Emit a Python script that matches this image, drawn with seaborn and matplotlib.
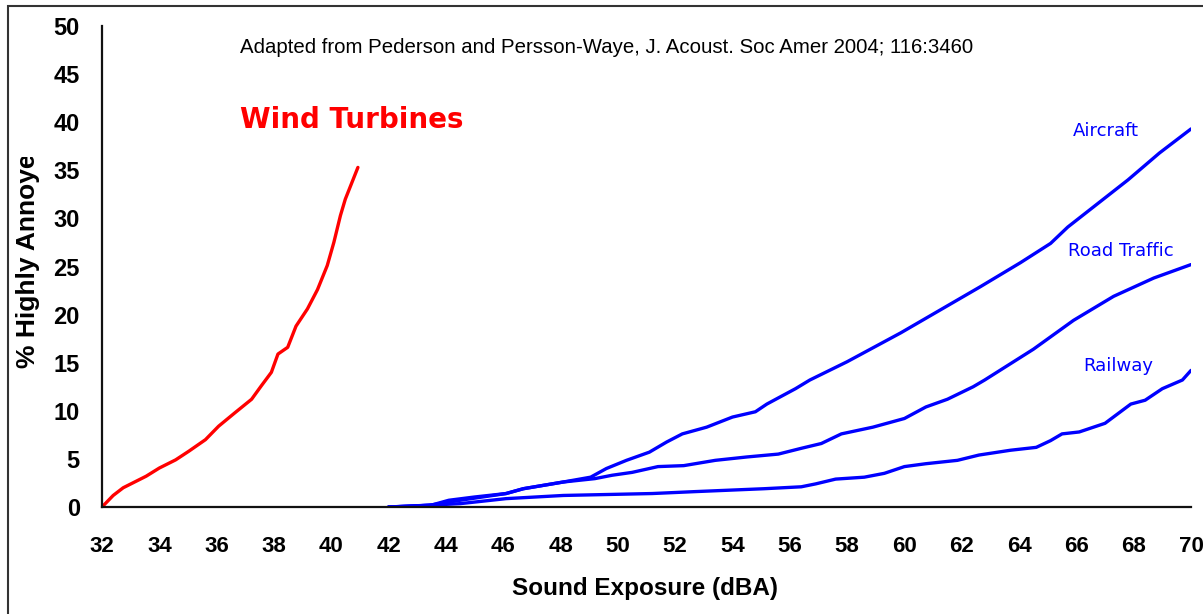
import matplotlib
matplotlib.use("Agg")
import matplotlib.pyplot as plt
import matplotlib.patches as patches
from matplotlib.transforms import Bbox, TransformedBbox
import seaborn as sns
import pandas as pd

# values
wind_x = [32.0, 32.39, 32.74, 33.54, 34.0, 34.57, 35.03, 35.61, 36.07, 36.64, 37.22, 37.56,
          37.91, 38.14, 38.48, 38.77, 39.17, 39.52, 39.86, 40.09, 40.32, 40.49, 40.93]
wind_y = [0.0, 1.2, 2.0, 3.2, 4.05, 4.9, 5.8, 7.0, 8.4, 9.8, 11.2, 12.6,
          14.0, 15.9, 16.6, 18.8, 20.6, 22.6, 25.1, 27.5, 30.3, 32.0, 35.3]

aircraft_x = [42.0, 43.4, 44.5, 46.1, 46.7, 48.1, 49.05, 49.6, 50.3, 51.1, 51.7, 52.25, 53.1,
              54.0, 54.8, 55.2, 56.2, 56.7, 58.0, 59.87, 61.26, 62.65, 64.05, 65.1, 65.7,
              66.6, 67.8, 68.9, 70.0]
aircraft_y = [0.0, 0.17, 0.7, 1.4, 1.9, 2.6, 3.1, 4.0, 4.85, 5.7, 6.75, 7.6, 8.3,
              9.35, 9.9, 10.7, 12.3, 13.2, 15.1, 18.1, 20.5, 22.9, 25.4, 27.4, 29.1,
              31.2, 34.0, 36.8, 39.3]

road_x = [42.0, 43.5, 44.1, 45.0, 46.1, 46.7, 48.1, 49.2, 49.8, 50.5, 51.4, 52.3, 53.4, 54.5,
          55.6, 56.4, 57.1, 57.8, 58.9, 60.0, 60.75, 61.5, 62.4, 62.8, 64.5, 65.9, 67.3,
          68.7, 70.0]
road_y = [0.0, 0.2, 0.7, 1.04, 1.4, 1.9, 2.6, 2.95, 3.3, 3.6, 4.2, 4.3, 4.85, 5.2,
          5.5, 6.1, 6.6, 7.6, 8.3, 9.2, 10.4, 11.2, 12.5, 13.2, 16.4, 19.4, 21.9,
          23.8, 25.2]

rail_x = [42.0, 42.66, 44.5, 46.1, 48.1, 51.2, 52.7, 55.1, 56.4, 56.9, 57.6, 58.6, 59.3,
          60.0, 60.75, 61.85, 62.6, 63.7, 64.6, 65.1, 65.5, 66.1, 67.0, 67.9, 68.4,
          69.0, 69.7, 70.0]
rail_y = [0.0, 0.07, 0.35, 0.87, 1.2, 1.4, 1.6, 1.9, 2.1, 2.4, 2.9, 3.1, 3.5,
          4.2, 4.5, 4.85, 5.4, 5.9, 6.2, 6.9, 7.6, 7.8, 8.7, 10.7, 11.1,
          12.3, 13.2, 14.2]

x_ticks = list(range(32, 71, 2))
y_ticks = list(range(0, 51, 5))

sns.set_style("white")
plt.rcParams["font.family"] = ["Liberation Sans", "DejaVu Sans"]

fig = plt.figure(figsize=(12.03, 6.14), dpi=100)
ax = fig.add_axes([102 / 1203, 107 / 614, 1089 / 1203, 481 / 614])

sns.lineplot(x=wind_x, y=wind_y, ax=ax, color="#ff0000", lw=2.4, sort=False, estimator=None)
for xs, ys in [(aircraft_x, aircraft_y), (road_x, road_y), (rail_x, rail_y)]:
    sns.lineplot(x=xs, y=ys, ax=ax, color="#0000ff", lw=2.4, sort=False, estimator=None)

ax.set_xlim(32, 70)
ax.set_ylim(0, 50)
ax.set_xticks(x_ticks)
ax.set_yticks(y_ticks)
for s in ["top", "right"]:
    ax.spines[s].set_visible(False)
for s in ["left", "bottom"]:
    ax.spines[s].set_color("#111111")
    ax.spines[s].set_linewidth(1.6)
ax.tick_params(axis="both", direction="out", length=7, width=1.6, color="#111111",
               labelsize=16, labelcolor="black", pad=6)
ax.tick_params(axis="x", pad=14)
ax.tick_params(axis="y", labelsize=17, pad=9)
for lab in ax.get_xticklabels() + ax.get_yticklabels():
    lab.set_fontweight("bold")

ax.set_xlabel("Sound Exposure (dBA)", fontsize=17.5, fontweight="bold", color="black")
ax.xaxis.set_label_coords(0.4986, -0.145)

ylab = fig.text(28 / 1203, (614 - 368) / 614, "% Highly Annoyed", rotation=90,
                ha="center", va="bottom", fontsize=19, fontweight="bold", color="black")
ylab.set_clip_box(TransformedBbox(Bbox.from_extents(0, 0, 1, (614 - 157) / 614), fig.transFigure))
ylab.set_clip_on(True)

ax.text(0.1267, 0.956, "Adapted from Pederson and Persson-Waye, J. Acoust. Soc Amer 2004; 116:3460",
        transform=ax.transAxes, fontsize=14.7, va="center", ha="left", color="black")
ax.text(0.1267, 0.8046, "Wind Turbines", transform=ax.transAxes, fontsize=20,
        fontweight="bold", color="#ff0000", va="center", ha="left", family="DejaVu Sans")
for label, xx, yy in [("Aircraft", 0.922, 0.782), ("Road Traffic", 0.936, 0.532),
                      ("Railway", 0.933, 0.293)]:
    ax.text(xx, yy, label, transform=ax.transAxes, fontsize=13, color="#0000ff",
            va="center", ha="center", family="DejaVu Sans")

fig.patches.append(patches.Rectangle((8 / 1203, -0.05), 1.2, (614 - 6) / 614 + 0.05,
                                     transform=fig.transFigure, fill=False,
                                     edgecolor="#333333", lw=1.5))

fig.savefig("out.png", dpi=100)
